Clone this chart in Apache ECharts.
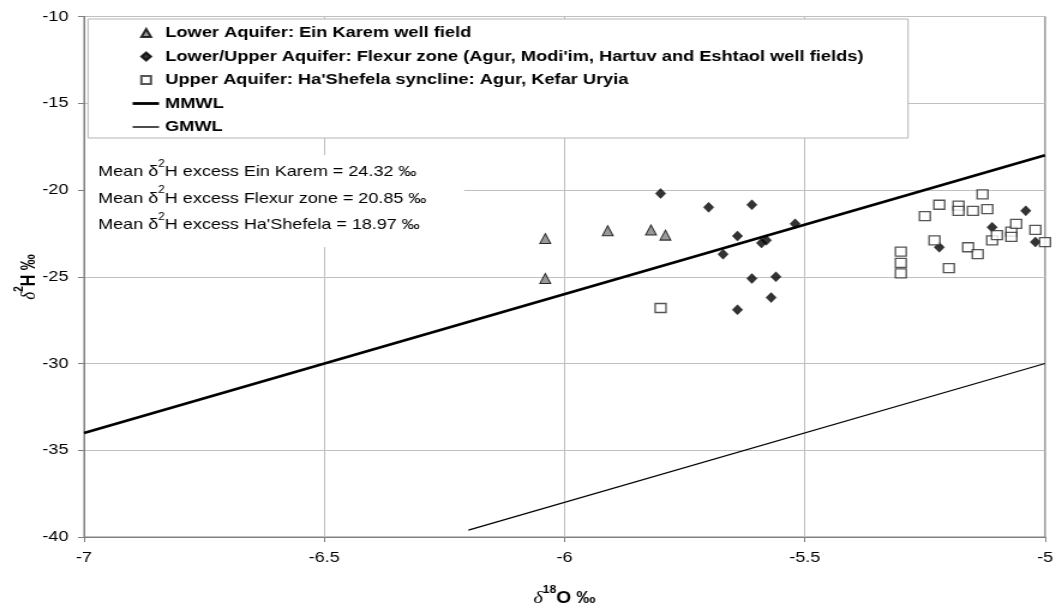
<!DOCTYPE html>
<html>
<head>
<meta charset="utf-8">
<script src="https://cdn.jsdelivr.net/npm/echarts@6/dist/echarts.min.js"></script>
<style>
  html, body { margin: 0; padding: 0; background: #fff; overflow: hidden; }
  #wrap { width: 1056px; height: 610px; overflow: hidden; }
  /* the chart is laid out on a narrower canvas and widened, like the original figure */
  #chart { width: 880px; height: 610px; transform: scaleX(1.2); transform-origin: 0 0; }
</style>
</head>
<body>
<div id="wrap"><div id="chart"></div></div>
<script>
// δ18O / δ2H pairs (‰) per aquifer group
const einKarem = [
  [-6.04, -22.8], [-6.04, -25.1], [-5.91, -22.35], [-5.82, -22.3], [-5.79, -22.6]
];
const flexur = [
  [-5.80, -20.2], [-5.70, -21.0], [-5.61, -20.85], [-5.52, -21.95], [-5.64, -22.65],
  [-5.59, -23.05], [-5.58, -22.9], [-5.67, -23.7], [-5.61, -25.1], [-5.56, -25.0],
  [-5.57, -26.2], [-5.64, -26.9], [-5.04, -21.2], [-5.11, -22.15], [-5.22, -23.3],
  [-5.02, -23.0]
];
const shefela = [
  [-5.80, -26.8], [-5.13, -20.25], [-5.22, -20.85], [-5.18, -20.9], [-5.18, -21.2],
  [-5.15, -21.2], [-5.12, -21.1], [-5.25, -21.5], [-5.23, -22.9], [-5.30, -23.55],
  [-5.30, -24.2], [-5.30, -24.8], [-5.20, -24.5], [-5.16, -23.3], [-5.14, -23.7],
  [-5.11, -22.9], [-5.10, -22.6], [-5.07, -22.4], [-5.07, -22.7], [-5.06, -21.95],
  [-5.02, -22.3], [-5.00, -23.0]
];
// meteoric water lines, end points
const mmwl = [[-7, -34], [-5, -18]];
const gmwl = [[-6.2, -39.6], [-5, -30]];

const seriesNames = [
  'Lower Aquifer: Ein Karem well field',
  "Lower/Upper Aquifer: Flexur zone (Agur, Modi'im, Hartuv and Eshtaol well fields)",
  "Upper Aquifer: Ha'Shefela syncline: Agur, Kefar Uryia",
  'MMWL',
  'GMWL'
];
// mean deuterium excess per group
const excessGroups = ['Ein Karem', 'Flexur zone', "Ha'Shefela"];
const excessValues = ['24.32', '20.85', '18.97'];

const xTicks = { min: -7, max: -5, step: 0.5 };
const yTicks = { min: -40, max: -10, step: 5 };

const FONT = '"Liberation Sans", Arial, sans-serif';
const SERIF = '"Liberation Serif", "Times New Roman", serif';

const chart = echarts.init(document.getElementById('chart'));

const excessText = excessGroups.map((g, i) =>
  '{t|Mean }{g|δ}{s|2}{t|H excess ' + g + ' = ' + excessValues[i] + ' ‰}'
).join('\n');

const titleRich = {
  d: { fontFamily: SERIF, fontStyle: 'italic', fontSize: 17, color: '#000', fill: '#000', lineHeight: 20 },
  s: { fontFamily: FONT, fontWeight: 'bold', fontSize: 10, color: '#000', fill: '#000', lineHeight: 28, verticalAlign: 'top' },
  b: { fontFamily: FONT, fontWeight: 'bold', fontSize: 16, color: '#000', fill: '#000', lineHeight: 20 }
};

const legendText = { fontFamily: FONT, fontWeight: 'bold', fontSize: 15.2, color: '#000', lineHeight: 18 };

// one legend block per row style: markers, thick line, thin line
function lineLegend(name, top, thickness) {
  return {
    data: [{ name: name, icon: 'rect' }],
    orient: 'vertical', left: 110.5, top: top, padding: 0,
    itemWidth: 22, itemHeight: thickness, selectedMode: false, z: 20,
    textStyle: legendText
  };
}

const option = {
  backgroundColor: '#fff',
  animation: false,
  grid: {
    left: 70, right: 9.2, top: 16.5, bottom: 73,
    outerBoundsMode: 'none', containLabel: false,
    show: true, borderColor: '#808080', borderWidth: 1, backgroundColor: 'transparent'
  },
  xAxis: {
    type: 'value', min: xTicks.min, max: xTicks.max, interval: xTicks.step,
    name: '{d|δ}{s|18}{b|O ‰}', nameLocation: 'middle', nameGap: 48,
    nameTextStyle: { rich: titleRich },
    axisLine: { show: true, onZero: false, lineStyle: { color: '#808080', width: 1 } },
    axisTick: { show: true, length: 5, lineStyle: { color: '#808080' } },
    axisLabel: { margin: 13, fontFamily: FONT, fontSize: 15, color: '#000' },
    splitLine: { show: true, lineStyle: { color: '#c0c0c0', width: 1 } }
  },
  yAxis: {
    type: 'value', min: yTicks.min, max: yTicks.max, interval: yTicks.step,
    axisLine: { show: true, onZero: false, lineStyle: { color: '#808080', width: 1 } },
    axisTick: { show: true, length: 5, lineStyle: { color: '#808080' } },
    axisLabel: { margin: 13, fontFamily: FONT, fontSize: 15, color: '#000' },
    splitLine: { show: true, lineStyle: { color: '#c0c0c0', width: 1 } }
  },
  legend: [
    {
      data: [
        { name: seriesNames[0], icon: 'triangle' },
        { name: seriesNames[1], icon: 'diamond' },
        { name: seriesNames[2], icon: 'rect' }
      ],
      orient: 'vertical', left: 116.8, top: 24, padding: 0,
      itemWidth: 8, itemHeight: 8, itemGap: 5.5, selectedMode: false, z: 20,
      textStyle: Object.assign({ padding: [0, 0, 0, 7] }, legendText)
    },
    lineLegend(seriesNames[3], 94.5, 2.8),
    lineLegend(seriesNames[4], 118, 1.4)
  ],
  graphic: [
    {
      // vertical axis title
      type: 'text', z: 11, x: 25, y: 277, rotation: Math.PI / 2,
      style: {
        text: '{d|δ}{s|2}{b|H ‰}', align: 'center', verticalAlign: 'middle',
        rich: titleRich
      }
    },
    {
      type: 'rect', z: 10,
      shape: { x: 73.3, y: 19, width: 683.4, height: 119 },
      style: { fill: '#fff', stroke: '#b4b4b4', lineWidth: 1 }
    },
    {
      type: 'rect', z: 10,
      shape: { x: 71, y: 155, width: 315.7, height: 92 },
      style: { fill: '#fff' }
    },
    {
      type: 'text', z: 11, x: 81.7, y: 158.75,
      style: {
        text: excessText,
        fill: '#000',
        rich: {
          t: { fontFamily: FONT, fontSize: 15, lineHeight: 26.5, fill: '#000' },
          g: { fontFamily: FONT, fontSize: 15, lineHeight: 26.5, fill: '#000' },
          s: { fontFamily: FONT, fontSize: 10, lineHeight: 20, verticalAlign: 'top', fill: '#000' }
        }
      }
    }
  ],
  series: [
    {
      name: seriesNames[0], type: 'scatter', data: einKarem,
      symbol: 'triangle', symbolSize: [9, 10],
      itemStyle: { color: '#808080', borderColor: '#000', borderWidth: 1 }
    },
    {
      name: seriesNames[1], type: 'scatter', data: flexur,
      symbol: 'diamond', symbolSize: [8.5, 10],
      itemStyle: { color: '#000', borderColor: '#000', borderWidth: 0.5 }
    },
    {
      name: seriesNames[2], type: 'scatter', data: shefela,
      symbol: 'rect', symbolSize: 9,
      itemStyle: { color: '#fff', borderColor: '#2b2b2b', borderWidth: 1.3 }
    },
    {
      name: seriesNames[3], type: 'line', data: mmwl, symbol: 'none',
      lineStyle: { color: '#000', width: 2.6 }, itemStyle: { color: '#000' }, z: 3
    },
    {
      name: seriesNames[4], type: 'line', data: gmwl, symbol: 'none',
      lineStyle: { color: '#000', width: 1.2 }, itemStyle: { color: '#000' }, z: 3
    }
  ]
};

chart.setOption(option);
</script>
</body>
</html>
